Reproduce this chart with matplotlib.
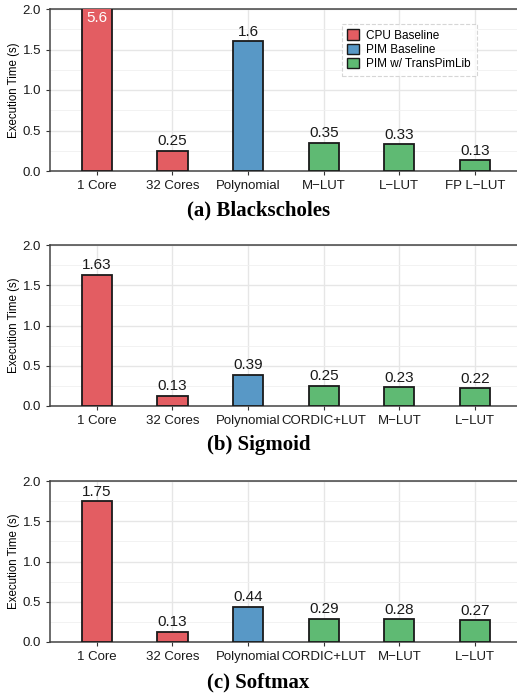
import matplotlib
matplotlib.use("Agg")
import matplotlib.pyplot as plt
from matplotlib.patches import Patch
from matplotlib.ticker import MultipleLocator

plt.rcParams['font.family'] = ['Liberation Sans', 'DejaVu Sans']

# data
cats_a = ['1 Core', '32 Cores', 'Polynomial', 'M\u2212LUT', 'L\u2212LUT', 'FP L\u2212LUT']
vals_a = [5.6, 0.25, 1.6, 0.35, 0.33, 0.13]
grp_a = ['cpu', 'cpu', 'pim', 'lib', 'lib', 'lib']

cats_b = ['1 Core', '32 Cores', 'Polynomial', 'CORDIC+LUT', 'M\u2212LUT', 'L\u2212LUT']
vals_b = [1.63, 0.13, 0.39, 0.25, 0.23, 0.22]
grp_b = ['cpu', 'cpu', 'pim', 'lib', 'lib', 'lib']

cats_c = ['1 Core', '32 Cores', 'Polynomial', 'CORDIC+LUT', 'M\u2212LUT', 'L\u2212LUT']
vals_c = [1.75, 0.13, 0.44, 0.29, 0.28, 0.27]
grp_c = ['cpu', 'cpu', 'pim', 'lib', 'lib', 'lib']

colors = {'cpu': '#E35D62', 'pim': '#5898C6', 'lib': '#5FBA73'}
legend_names = {'cpu': 'CPU Baseline', 'pim': 'PIM Baseline', 'lib': 'PIM w/ TransPimLib'}

ymax = 2.0

fig = plt.figure(figsize=(5.17, 7.0), dpi=100)


def panel(rect, cats, vals, grp, caption, cap_y, legend=False):
    ax = fig.add_axes(rect)
    x = list(range(len(cats)))
    ax.bar(x, vals, width=0.4, color=[colors[g] for g in grp],
           edgecolor='#1a1a1a', linewidth=1.3, zorder=3)
    ax.set_xlim(-0.62, len(cats) - 0.444)
    ax.set_ylim(0, ymax)
    ax.yaxis.set_minor_locator(MultipleLocator(0.25))
    ax.set_yticks([0, 0.5, 1.0, 1.5, 2.0])
    ax.set_yticklabels(['0.0', '0.5', '1.0', '1.5', '2.0'])
    ax.set_xticks(x)
    ax.set_xticklabels(cats)
    ax.tick_params(axis='both', labelsize=9.5, colors='#333333', length=3, width=0.8,
                   labelcolor='#1a1a1a')
    ax.tick_params(axis='y', which='minor', length=0)
    ax.grid(True, which='major', color='#E6E6E6', linewidth=1.0, zorder=0)
    ax.grid(True, which='minor', axis='y', color='#F0F0F0', linewidth=0.6, zorder=0)
    ax.set_axisbelow(True)
    for s in ['left', 'bottom', 'top']:
        ax.spines[s].set_color('#444444')
        ax.spines[s].set_linewidth(1.1)
    ax.spines['right'].set_visible(False)
    ax.set_ylabel('Execution Time (s)', fontsize=8.3, labelpad=2)
    for xi, v in zip(x, vals):
        if v > ymax:
            ax.text(xi, ymax - 0.03, f'{v:g}', ha='center', va='top',
                    color='white', fontsize=11)
        else:
            ax.text(xi, v + 0.03, f'{v:g}', ha='center', va='bottom',
                    color='#1a1a1a', fontsize=11)
    if legend:
        handles = [Patch(facecolor=colors[k], edgecolor='#1a1a1a', linewidth=1.0,
                         label=legend_names[k]) for k in ['cpu', 'pim', 'lib']]
        leg = ax.legend(handles=handles, loc='upper right', bbox_to_anchor=(0.914, 0.91),
                        fontsize=8.5, frameon=True, fancybox=False, borderaxespad=0,
                        handlelength=1.0, handleheight=1.0, handletextpad=0.6,
                        labelspacing=0.15, borderpad=0.5)
        fr = leg.get_frame()
        fr.set_edgecolor('#CCCCCC')
        fr.set_linestyle('--')
        fr.set_linewidth(0.8)
    fig.text(0.5, cap_y, caption, ha='center', va='center', fontsize=15,
             fontweight='bold', family=['Liberation Serif', 'DejaVu Serif'])
    return ax


panel([50 / 517, 1 - 171 / 700, 467 / 517, 162 / 700], cats_a, vals_a, grp_a,
      '(a) Blackscholes', 1 - 210 / 700, legend=True)
panel([50 / 517, 1 - 406 / 700, 467 / 517, 161 / 700], cats_b, vals_b, grp_b,
      '(b) Sigmoid', 1 - 445 / 700)
panel([50 / 517, 1 - 642 / 700, 467 / 517, 161 / 700], cats_c, vals_c, grp_c,
      '(c) Softmax', 1 - 682 / 700)

fig.savefig('out.png', dpi=100)
